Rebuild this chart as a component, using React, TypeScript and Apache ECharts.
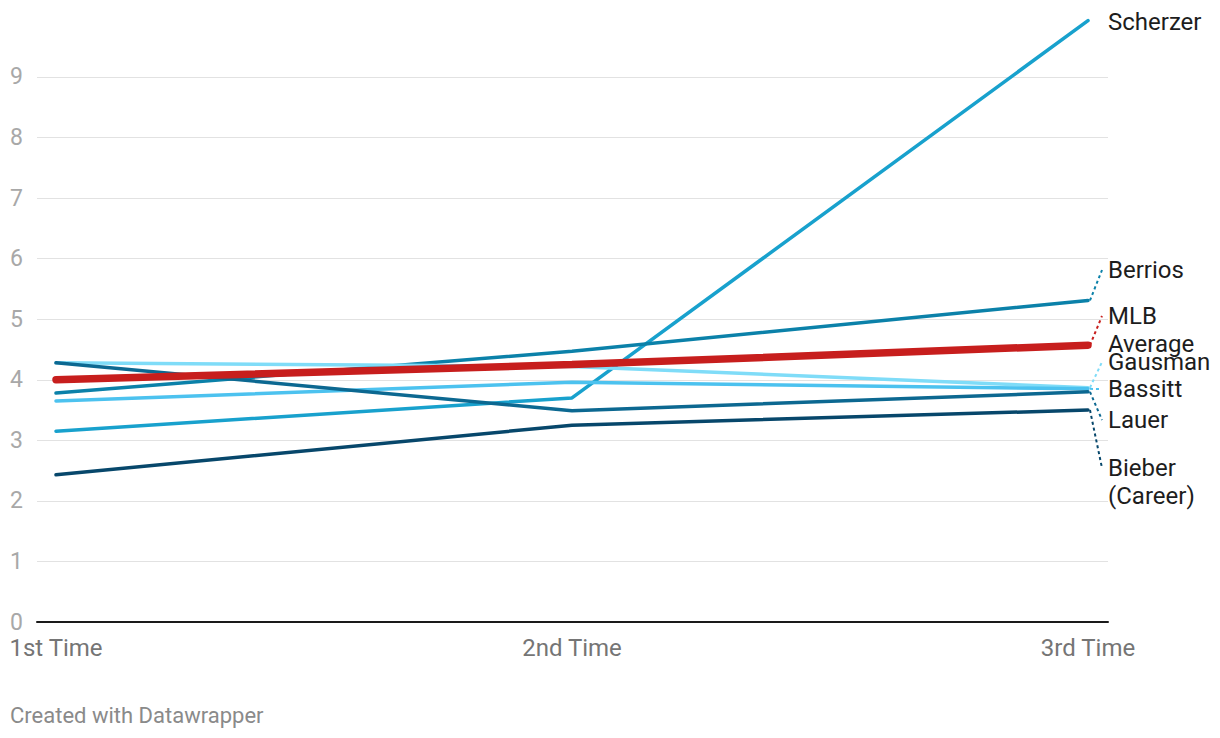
import React, { useEffect, useRef } from "react";
import * as echarts from "echarts";

const categories = ["1st Time", "2nd Time", "3rd Time"];
const yTicks = [0, 1, 2, 3, 4, 5, 6, 7, 8, 9];

const scherzer = [3.15, 3.7, 9.93];
const berrios = [3.78, 4.47, 5.31];
const mlbAverage = [4.0, 4.25, 4.57];
const gausman = [4.28, 4.22, 3.87];
const bassitt = [3.65, 3.96, 3.85];
const lauer = [4.28, 3.49, 3.8];
const bieber = [2.43, 3.25, 3.5];

const seriesDefs = [
  { name: "Scherzer", label: ["Scherzer"], data: scherzer, color: "#18a1cd", width: 3.5, labelY: 22, connector: false },
  { name: "Berrios", label: ["Berrios"], data: berrios, color: "#0b81a9", width: 3.5, labelY: 270, connector: true },
  { name: "Gausman", label: ["Gausman"], data: gausman, color: "#7fdcf8", width: 3.5, labelY: 362, connector: true },
  { name: "Bassitt", label: ["Bassitt"], data: bassitt, color: "#4cc2ef", width: 3.5, labelY: 389, connector: true },
  { name: "Lauer", label: ["Lauer"], data: lauer, color: "#0c6891", width: 3.5, labelY: 420, connector: true },
  { name: "Bieber (Career)", label: ["Bieber", "(Career)"], data: bieber, color: "#07476b", width: 3.5, labelY: 468, connector: true },
  { name: "MLB Average", label: ["MLB", "Average"], data: mlbAverage, color: "#c71e1d", width: 7.5, labelY: 316, connector: true },
];

export default function App() {
  const ref = useRef<HTMLDivElement>(null);
  useEffect(() => {
    if (!ref.current) return;
    const chart = echarts.init(ref.current, undefined, { renderer: "svg" });
    const option: any = {
      animation: false,
      backgroundColor: "#ffffff",
      grid: { left: 37, right: 112, top: 17, bottom: 116 },
      xAxis: {
        type: "value",
        min: -0.0368,
        max: 2.0388,
        axisLine: { show: true, lineStyle: { color: "#1a1a1a", width: 2 } },
        axisTick: { show: false },
        splitLine: { show: false },
        axisLabel: {
          customValues: [0, 1, 2],
          formatter: (v: number) => categories[Math.round(v)] ?? "",
          color: "#757575",
          fontFamily: "Roboto",
          fontSize: 24,
          margin: 14,
        },
      },
      yAxis: {
        type: "value",
        min: 0,
        max: 9.99,
        interval: 1,
        axisLine: { show: false },
        axisTick: { show: false },
        splitLine: { show: true, showMaxLine: false, lineStyle: { color: "#e2e2e2", width: 1 } },
        axisLabel: {
          align: "left",
          margin: 27,
          color: "#a8a8a8",
          fontFamily: "Roboto",
          fontSize: 23,
          showMaxLabel: false,
          formatter: (v: number) => (yTicks.includes(v) ? String(v) : ""),
        },
      },
      series: seriesDefs.map((s) => ({
        name: s.name,
        type: "line",
        data: s.data.map((v, i) => [i, v]),
        symbol: "none",
        clip: false,
        z: s.name === "MLB Average" ? 5 : 3,
        lineStyle: { color: s.color, width: s.width, cap: "round" },
      })),
    };
    chart.setOption(option);

    const graphics: any[] = [];
    seriesDefs.forEach((s) => {
      const p = chart.convertToPixel({ gridIndex: 0 }, [2, s.data[2]]) as number[];
      if (s.connector) {
        const horizontal = Math.abs(p[1] - s.labelY) < 4;
        graphics.push({
          type: "line",
          shape: { x1: p[0] + 2, y1: p[1], x2: horizontal ? 1100 : 1102, y2: s.labelY },
          style: { stroke: s.color, lineWidth: 2, lineDash: [3, 3] },
          z: 10,
        });
      }
      s.label.forEach((t, i) => {
        graphics.push({
          type: "text",
          x: 1108,
          y: s.labelY + i * 28,
          style: {
            text: t,
            fill: "#1d1d1d",
            font: "24px Roboto",
            textVerticalAlign: "middle",
            textAlign: "left",
          },
          z: 11,
        });
      });
    });
    graphics.push({
      type: "text",
      x: 10,
      y: 715,
      style: {
        text: "Created with Datawrapper",
        fill: "#8a8a8a",
        font: "22px Roboto",
        textVerticalAlign: "middle",
        textAlign: "left",
      },
    });
    chart.setOption({ graphic: graphics });

    return () => chart.dispose();
  }, []);
  return <div ref={ref} style={{ width: 1220, height: 738, position: "absolute", left: 0, top: 0 }} />;
}
